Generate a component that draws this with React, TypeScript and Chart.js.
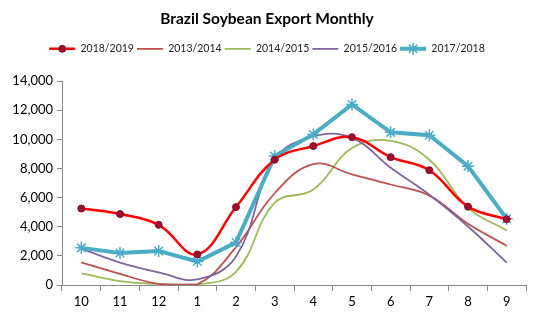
import React, { useEffect, useRef } from "react";
import { Chart, registerables } from "chart.js";
import { drawPoint } from "chart.js/helpers";
Chart.register(...registerables);

const months = ["10", "11", "12", "1", "2", "3", "4", "5", "6", "7", "8", "9"];
const s2018_2019 = [5250, 4870, 4130, 2100, 5350, 8600, 9540, 10150, 8780, 7880, 5380, 4520];
const s2013_2014 = [1560, 760, 80, 40, 2600, 6300, 8300, 7600, 6900, 6140, 4200, 2700];
const s2014_2015 = [800, 260, 80, 30, 900, 5650, 6550, 9400, 9900, 8600, 5300, 3750];
const s2015_2016 = [2500, 1540, 870, 390, 1950, 8600, 10200, 10100, 8050, 6200, 4020, 1540];
const s2017_2018 = [2550, 2200, 2340, 1610, 2920, 8850, 10340, 12400, 10480, 10280, 8160, 4550];

const legendExtra = {
  id: "legendExtra",
  afterInit(chart: any) {
    const lg = chart.legend;
    if (!lg || lg.__patched) return;
    const orig = lg.fit;
    lg.fit = function () {
      orig.call(this);
      this.height += 17;
      this.minSize && (this.minSize.height = this.height);
    };
    lg.__patched = true;
  },
  afterDraw(chart: any) {
    const lg = chart.legend;
    if (!lg || !lg.legendHitBoxes) return;
    const ctx = chart.ctx;
    lg.legendItems.forEach((item: any, i: number) => {
      const ds = chart.data.datasets[item.datasetIndex];
      if (!ds.pointRadius) return;
      const hb = lg.legendHitBoxes[i];
      const cx = hb.left + lg.options.labels.boxWidth / 2;
      const cy = hb.top + hb.height / 2;
      ctx.save();
      ctx.fillStyle = ds.pointBackgroundColor;
      ctx.strokeStyle = ds.pointBorderColor;
      ctx.lineWidth = ds.pointBorderWidth || 1;
      drawPoint(ctx, { pointStyle: ds.pointStyle, radius: ds.pointRadius, borderWidth: ds.pointBorderWidth, rotation: 0 } as any, cx, cy);
      ctx.restore();
    });
  },
};

export default function App() {
  const ref = useRef<HTMLCanvasElement>(null);
  useEffect(() => {
    document.body.style.margin = "0";
    const ch = new Chart(ref.current!, {
      type: "line",
      data: {
        labels: months,
        datasets: [
          {
            label: "2018/2019",
            data: s2018_2019,
            borderColor: "#FF0000",
            borderWidth: 2.5,
            tension: 0.4,
            pointStyle: "circle",
            pointRadius: 3.5,
            pointBackgroundColor: "#A0102A",
            pointBorderColor: "#7A1030",
            pointBorderWidth: 1,
            order: 1,
          },
          {
            label: "2013/2014",
            data: s2013_2014,
            borderColor: "#C0504D",
            borderWidth: 1.8,
            tension: 0.4,
            pointRadius: 0,
            order: 4,
          },
          {
            label: "2014/2015",
            data: s2014_2015,
            borderColor: "#9BBB59",
            borderWidth: 1.8,
            tension: 0.4,
            pointRadius: 0,
            order: 5,
          },
          {
            label: "2015/2016",
            data: s2015_2016,
            borderColor: "#8064A2",
            borderWidth: 1.8,
            tension: 0.4,
            pointRadius: 0,
            order: 3,
          },
          {
            label: "2017/2018",
            data: s2017_2018,
            borderColor: "#4BACC6",
            borderWidth: 4,
            tension: 0,
            pointStyle: "star",
            pointRadius: 6,
            pointBackgroundColor: "#4BACC6",
            pointBorderColor: "#4BACC6",
            pointBorderWidth: 1.5,
            order: 2,
          },
        ],
      },
      options: {
        responsive: false,
        animation: false,
        layout: { padding: { left: 8, right: 24, top: 6, bottom: 0 } },
        plugins: {
          title: {
            display: true,
            text: "Brazil Soybean Export Monthly",
            color: "#000",
            font: { family: "Lato", size: 15.5, weight: "bold" },
            padding: { top: 4, bottom: 12 },
          },
          legend: {
            position: "top",
            labels: {
              boxWidth: 26,
              boxHeight: 0,
              color: "#222",
              font: { family: "Lato", size: 10.5 },
              padding: 3,
              generateLabels(chart: any) {
                return chart.data.datasets.map((ds: any, i: number) => ({
                  text: ds.label,
                  fillStyle: ds.borderColor,
                  strokeStyle: ds.borderColor,
                  lineWidth: ds.borderWidth,
                  datasetIndex: i,
                  hidden: false,
                  fontColor: "#222",
                }));
              },
            },
          },
          tooltip: { enabled: false },
        },
        scales: {
          x: {
            offset: true,
            grid: {
              offset: true,
              drawOnChartArea: false,
              drawTicks: true,
              tickLength: 6,
              color: "#888",
            },
            border: { color: "#888", width: 1 },
            ticks: { color: "#000", font: { family: "Lato", size: 13 }, padding: 3 },
            afterFit(s: any) {
              s.height = 37;
            },
          },
          y: {
            min: 0,
            max: 14000,
            grid: { drawOnChartArea: false, tickLength: 5, color: "#888" },
            border: { color: "#888", width: 1 },
            ticks: {
              stepSize: 2000,
              color: "#000",
              font: { family: "Lato", size: 13 },
              padding: 4,
              callback: (v: any) => Number(v).toLocaleString("en-US"),
            },
            afterFit(s: any) {
              s.width = 54;
            },
          },
        },
      },
      plugins: [legendExtra],
    });
    return () => ch.destroy();
  }, []);
  return (
    <div style={{ width: 550, height: 322, background: "#fff" }}>
      <canvas ref={ref} width={550} height={322} />
    </div>
  );
}
